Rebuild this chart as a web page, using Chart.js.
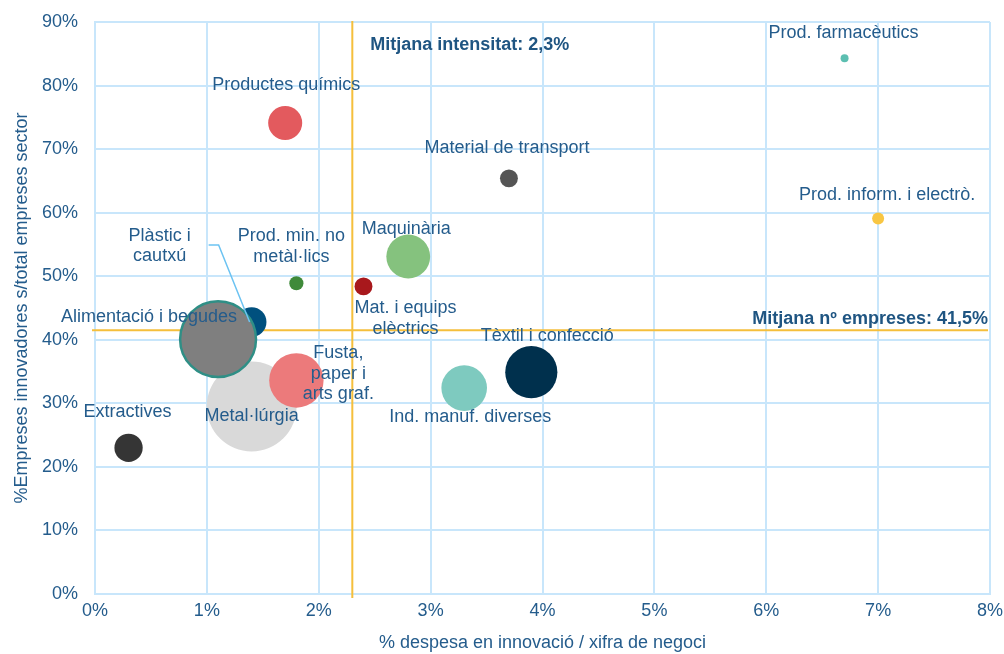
<!DOCTYPE html>
<html>
<head>
<meta charset="utf-8">
<script src="https://cdn.jsdelivr.net/npm/chart.js@4.4.1/dist/chart.umd.min.js"></script>
<style>
  html, body { margin: 0; padding: 0; background: #fff; }
  #wrap { width: 1004px; height: 654px; }
</style>
</head>
<body>
<div id="wrap"><canvas id="grafic"></canvas></div>
<script>
// Sectors, in drawing order (largest bubbles first so the small ones stay visible)
const sectors = [
  'Metal·lúrgia', 'Plàstic i\ncautxú', 'Alimentació i begudes', 'Fusta,\npaper i\narts graf.',
  'Extractives', 'Ind. manuf. diverses', 'Tèxtil i confecció', 'Maquinària',
  'Mat. i equips\nelèctrics', 'Prod. min. no\nmetàl·lics', 'Productes químics',
  'Material de transport', 'Prod. inform. i electrò.', 'Prod. farmacèutics'
];
const despesa     = [1.4, 1.4, 1.1, 1.8, 0.3, 3.3, 3.9, 2.8, 2.4, 1.8, 1.7, 3.7, 7.0, 6.7];   // % despesa / xifra de negoci
const innovadores = [29.5, 42.8, 40.1, 33.6, 23.0, 32.4, 34.9, 53.1, 48.4, 48.9, 74.1, 65.4, 59.1, 84.3]; // % empreses innovadores
const empreses    = [101, 11, 72, 37, 10, 26, 34, 24, 4, 2.5, 14.5, 4, 1.8, 0.8];            // pes relatiu (mida de la bombolla)
const colors = [
  '#d9d9d9', '#00507e', '#7f7f7f', '#ec7a7b', '#353535', '#7ecabf', '#00304d',
  '#85c27e', '#a8181c', '#3f8a3a', '#e35a5e', '#555555', '#f8c643', '#5cbfb1'
];

const mitjanaX = 2.3;   // Mitjana intensitat
const mitjanaY = 41.5;  // Mitjana nº empreses
const xTicks = [0, 1, 2, 3, 4, 5, 6, 7, 8];
const yTicks = [0, 10, 20, 30, 40, 50, 60, 70, 80, 90];

const TEXT = '#245c8c';
const GRID = '#c8e6fb';
const MEAN = '#f5bf3c';
const FONT = '"Liberation Sans", Arial, sans-serif';

// label offsets (px) from each bubble centre, same order as sectors
const offsets = [
  [0, 10], [-92, -86], [-69, -22], [42, -27], [-1, -36], [6, 29], [16, -36],
  [-2, -27], [42, 22], [-5, -47], [1, -38], [-2, -30], [9, -23], [-1, -25]
];

const punts = sectors.map((s, i) => ({ x: despesa[i], y: innovadores[i], r: Math.sqrt(empreses[i] * 20) }));

// bubbles may overflow the plot edge; don't let their radius push the chart area in
Chart.BubbleController.prototype.getMaxOverflow = function () { return false; };

// mean lines go behind the bubbles
const liniesMitjana = {
  id: 'liniesMitjana',
  beforeDatasetsDraw(chart) {
    const { ctx, chartArea: a, scales: { x, y } } = chart;
    const px = x.getPixelForValue(mitjanaX);
    const py = y.getPixelForValue(mitjanaY);
    ctx.save();
    ctx.strokeStyle = MEAN;
    ctx.lineWidth = 2;
    ctx.beginPath();
    ctx.moveTo(px, a.top - 1);
    ctx.lineTo(px, a.bottom + 4);
    ctx.moveTo(a.left - 3, py);
    ctx.lineTo(a.right - 2, py);
    ctx.stroke();
    ctx.restore();
  }
};

// sector names and the bold mean captions
const etiquetes = {
  id: 'etiquetes',
  afterDatasetsDraw(chart) {
    const { ctx, chartArea: a, scales: { x, y } } = chart;
    ctx.save();

    // leader line for Plàstic i cautxú
    const bx = x.getPixelForValue(despesa[1]);
    const by = y.getPixelForValue(innovadores[1]);
    ctx.strokeStyle = '#6cc3f2';
    ctx.lineWidth = 1.5;
    ctx.beginPath();
    ctx.moveTo(bx - 43, by - 77);
    ctx.lineTo(bx - 33, by - 77);
    ctx.lineTo(bx - 2, by);
    ctx.stroke();

    ctx.fillStyle = TEXT;
    ctx.font = '18px ' + FONT;
    ctx.textAlign = 'center';
    ctx.textBaseline = 'middle';
    sectors.forEach((s, i) => {
      const cx = x.getPixelForValue(despesa[i]) + offsets[i][0];
      const cy = y.getPixelForValue(innovadores[i]) + offsets[i][1];
      s.split('\n').forEach((line, k) => ctx.fillText(line, cx, cy + k * 20.5));
    });

    ctx.fillStyle = '#1f5582';
    ctx.font = 'bold 18px ' + FONT;
    ctx.textAlign = 'left';
    ctx.fillText('Mitjana intensitat: 2,3%', x.getPixelForValue(mitjanaX) + 18, a.top + 23);
    ctx.textAlign = 'right';
    ctx.fillText('Mitjana nº empreses: 41,5%', a.right - 2, y.getPixelForValue(mitjanaY) - 11);
    ctx.restore();
  }
};

new Chart(document.getElementById('grafic'), {
  type: 'bubble',
  data: {
    datasets: [{
      data: punts,
      backgroundColor: colors,
      borderColor: colors.map((c, i) => i === 2 ? '#2f8f86' : c),
      borderWidth: colors.map((c, i) => i === 2 ? 2.5 : 0),
      hoverRadius: 0
    }]
  },
  options: {
    responsive: true,
    maintainAspectRatio: false,
    animation: false,
    layout: { padding: { left: 0, top: 22, right: 14, bottom: 0 } },
    plugins: { legend: { display: false }, tooltip: { enabled: false } },
    scales: {
      x: {
        type: 'linear',
        min: 0, max: 8,
        afterBuildTicks: s => { s.ticks = xTicks.map(v => ({ value: v })); },
        afterFit: s => { s.height = 60; },
        // invisible tick marks push the labels away from the axis
        grid: { color: GRID, lineWidth: 2, tickLength: 6, tickColor: 'rgba(0,0,0,0)' },
        border: { color: GRID, width: 2 },
        ticks: { color: TEXT, font: { family: FONT, size: 18 }, padding: 0, maxRotation: 0, callback: v => v + '%' },
        title: { display: true, text: '% despesa en innovació / xifra de negoci', color: TEXT,
                 font: { family: FONT, size: 18 }, padding: { top: 0, bottom: 0 } }
      },
      y: {
        type: 'linear',
        min: 0, max: 90,
        afterBuildTicks: s => { s.ticks = yTicks.map(v => ({ value: v })); },
        afterFit: s => { s.width = 95; },
        grid: { color: GRID, lineWidth: 2, tickLength: 17, tickColor: 'rgba(0,0,0,0)' },
        border: { color: GRID, width: 2 },
        ticks: { color: TEXT, font: { family: FONT, size: 18 }, padding: 0, callback: v => v + '%' },
        title: { display: true, text: '%Empreses innovadores s/total empreses sector', color: TEXT,
                 font: { family: FONT, size: 18 }, padding: { top: 11, bottom: 0 } }
      }
    }
  },
  plugins: [liniesMitjana, etiquetes]
});
</script>
</body>
</html>
